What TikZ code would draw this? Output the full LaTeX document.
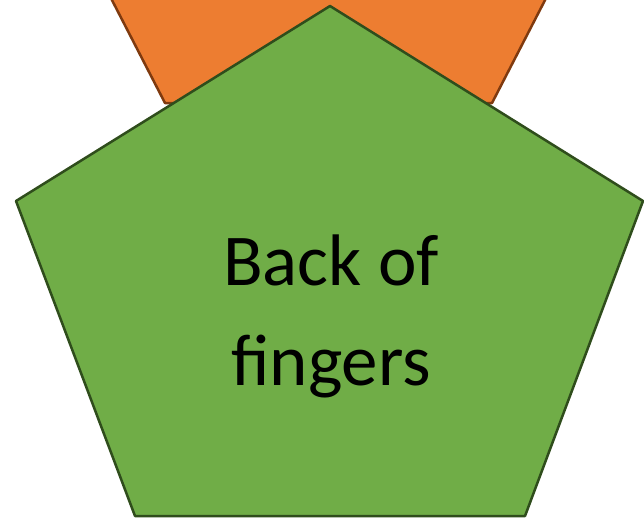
\documentclass[tikz,border=0pt]{standalone}
\usepackage{fontspec}
\setmainfont{Carlito}
\usetikzlibrary{positioning}

\definecolor{backorange}{HTML}{ED7D31}
\definecolor{backorangeline}{HTML}{7F3A0F}
\definecolor{fingergreen}{HTML}{70AD47}
\definecolor{fingergreenline}{HTML}{2F4D1C}

\tikzset{
    pentabox/.style={line width=2.5pt, line join=round}
}

\begin{document}
\begin{tikzpicture}[x=1pt, y=-1pt]
    \useasboundingbox (0,0) rectangle (644,517);

    % pentagon behind, only its lower part shows
    \begin{scope}
        \clip (0,0) rectangle (644,517);
        \draw[
            pentabox,
            fill=backorange,
            draw=backorangeline
        ] (329,-214) -- (593,-93) -- (492,103) -- (165,103) -- (64,-93) -- cycle;
    \end{scope}

    % front pentagon
    \draw[
        pentabox,
        fill=fingergreen,
        draw=fingergreenline
    ] (330,6) -- (643,201) -- (525,516) -- (135,516) -- (16,201) -- cycle;

    \node[
        align=center,
        inner sep=0pt,
        font=\fontsize{73}{100}\selectfont
    ] (label) at (331,316) {Back of\\fingers};
\end{tikzpicture}
\end{document}
